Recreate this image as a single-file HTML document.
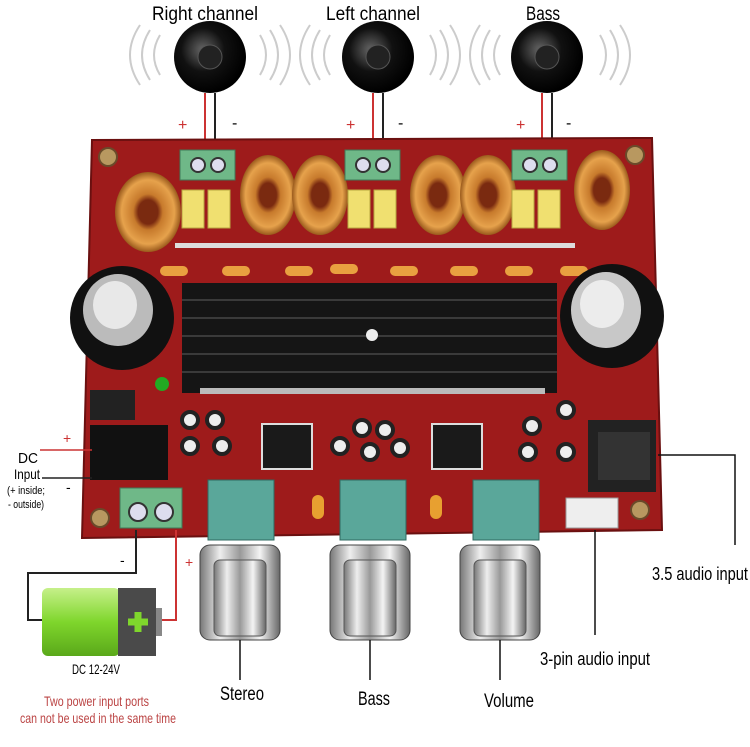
<!DOCTYPE html><html><head><style>body{margin:0;background:#fff}svg{display:block}text{font-family:"Liberation Sans",sans-serif}</style></head><body>
<svg width="750" height="747" viewBox="0 0 750 747" xmlns="http://www.w3.org/2000/svg">
<defs>
<radialGradient id="spk" cx="40%" cy="40%" r="60%"><stop offset="0" stop-color="#666"/><stop offset=".5" stop-color="#111"/><stop offset="1" stop-color="#000"/></radialGradient>
<linearGradient id="knob" x1="0" x2="1"><stop offset="0" stop-color="#777"/><stop offset=".25" stop-color="#eee"/><stop offset=".5" stop-color="#999"/><stop offset=".75" stop-color="#f4f4f4"/><stop offset="1" stop-color="#666"/></linearGradient>
<radialGradient id="coil" cx="50%" cy="50%" r="50%"><stop offset=".3" stop-color="#7a2a10"/><stop offset=".45" stop-color="#c77a2c"/><stop offset=".8" stop-color="#e6a24c"/><stop offset="1" stop-color="#9a5a1c"/></radialGradient>
<linearGradient id="bat" x1="0" y1="0" x2="0" y2="1"><stop offset="0" stop-color="#c6f08a"/><stop offset=".5" stop-color="#7fd62c"/><stop offset="1" stop-color="#5aa81a"/></linearGradient>
</defs>
<g fill="none" stroke="#ccc" stroke-width="2">
<path d="M160 35 q-12 20 0 40 M150 30 q-16 25 0 50 M140 25 q-20 30 0 60 M260 35 q12 20 0 40 M270 30 q16 25 0 50 M280 25 q20 30 0 60"/>
<path d="M330 35 q-12 20 0 40 M320 30 q-16 25 0 50 M310 25 q-20 30 0 60 M430 35 q12 20 0 40 M440 30 q16 25 0 50 M450 25 q20 30 0 60"/>
<path d="M500 35 q-12 20 0 40 M490 30 q-16 25 0 50 M480 25 q-20 30 0 60 M600 35 q12 20 0 40 M610 30 q16 25 0 50 M620 25 q20 30 0 60"/>
</g>
<text x="152" y="20" font-size="19" textLength="106" lengthAdjust="spacingAndGlyphs">Right channel</text>
<text x="326" y="20" font-size="19" textLength="94" lengthAdjust="spacingAndGlyphs">Left channel</text>
<text x="526" y="20" font-size="19" textLength="34" lengthAdjust="spacingAndGlyphs">Bass</text>
<circle cx="210" cy="57" r="36" fill="url(#spk)"/><circle cx="210" cy="57" r="12" fill="#222" stroke="#555"/>
<circle cx="378" cy="57" r="36" fill="url(#spk)"/><circle cx="378" cy="57" r="12" fill="#222" stroke="#555"/>
<circle cx="547" cy="57" r="36" fill="url(#spk)"/><circle cx="547" cy="57" r="12" fill="#222" stroke="#555"/>
<g stroke-width="2"><path d="M205 93 V155" stroke="#c33"/><path d="M215 93 V155" stroke="#222"/><path d="M373 93 V155" stroke="#c33"/><path d="M383 93 V155" stroke="#222"/><path d="M542 93 V155" stroke="#c33"/><path d="M552 93 V155" stroke="#222"/></g>
<g font-size="16"><text x="178" y="130" fill="#c33">+</text><text x="232" y="128">-</text><text x="346" y="130" fill="#c33">+</text><text x="398" y="128">-</text><text x="516" y="130" fill="#c33">+</text><text x="566" y="128">-</text></g>
<path d="M92 140 L652 138 L662 530 L82 538 Z" fill="#9e1b1b" stroke="#6a1010" stroke-width="2"/>
<g fill="#b89860" stroke="#6a4a2a" stroke-width="2"><circle cx="108" cy="157" r="9"/><circle cx="635" cy="155" r="9"/><circle cx="100" cy="518" r="9"/><circle cx="640" cy="510" r="9"/></g>
<g><ellipse cx="148" cy="212" rx="33" ry="40" fill="url(#coil)"/><ellipse cx="268" cy="195" rx="28" ry="40" fill="url(#coil)"/><ellipse cx="320" cy="195" rx="28" ry="40" fill="url(#coil)"/><ellipse cx="438" cy="195" rx="28" ry="40" fill="url(#coil)"/><ellipse cx="488" cy="195" rx="28" ry="40" fill="url(#coil)"/><ellipse cx="602" cy="190" rx="28" ry="40" fill="url(#coil)"/></g>
<g fill="#f0e070" stroke="#b8a840"><rect x="182" y="190" width="22" height="38"/><rect x="208" y="190" width="22" height="38"/><rect x="348" y="190" width="22" height="38"/><rect x="374" y="190" width="22" height="38"/><rect x="512" y="190" width="22" height="38"/><rect x="538" y="190" width="22" height="38"/></g>
<g fill="#6fb888" stroke="#3f7a58"><rect x="180" y="150" width="55" height="30"/><rect x="345" y="150" width="55" height="30"/><rect x="512" y="150" width="55" height="30"/><rect x="120" y="488" width="62" height="40"/></g>
<g fill="#dde" stroke="#333" stroke-width="2"><circle cx="198" cy="165" r="7"/><circle cx="218" cy="165" r="7"/><circle cx="363" cy="165" r="7"/><circle cx="383" cy="165" r="7"/><circle cx="530" cy="165" r="7"/><circle cx="550" cy="165" r="7"/><circle cx="138" cy="512" r="9"/><circle cx="164" cy="512" r="9"/></g>
<g fill="#e9a040"><rect x="160" y="266" width="28" height="10" rx="5"/><rect x="222" y="266" width="28" height="10" rx="5"/><rect x="285" y="266" width="28" height="10" rx="5"/><rect x="330" y="264" width="28" height="10" rx="5"/><rect x="390" y="266" width="28" height="10" rx="5"/><rect x="450" y="266" width="28" height="10" rx="5"/><rect x="505" y="266" width="28" height="10" rx="5"/><rect x="560" y="266" width="28" height="10" rx="5"/></g>
<rect x="175" y="243" width="400" height="5" fill="#ddd"/>
<rect x="182" y="283" width="375" height="110" fill="#151515"/>
<g stroke="#3a3a3a" stroke-width="2"><path d="M182 300 H557 M182 318 H557 M182 336 H557 M182 354 H557 M182 372 H557"/></g>
<rect x="200" y="388" width="345" height="6" fill="#bbb"/>
<circle cx="372" cy="335" r="6" fill="#eee"/>
<circle cx="122" cy="318" r="52" fill="#111"/><ellipse cx="118" cy="310" rx="35" ry="36" fill="#bbb"/><ellipse cx="115" cy="305" rx="22" ry="24" fill="#e8e8e8"/>
<circle cx="612" cy="316" r="52" fill="#111"/><ellipse cx="606" cy="310" rx="35" ry="38" fill="#c8c8c8"/><ellipse cx="602" cy="304" rx="22" ry="24" fill="#ececec"/>
<circle cx="162" cy="384" r="7" fill="#2a2"/>
<rect x="90" y="390" width="45" height="30" fill="#222"/>
<rect x="90" y="425" width="78" height="55" fill="#111"/>
<g fill="#eee" stroke="#222" stroke-width="4"><circle cx="190" cy="420" r="8"/><circle cx="215" cy="420" r="8"/><circle cx="190" cy="446" r="8"/><circle cx="222" cy="446" r="8"/><circle cx="340" cy="446" r="8"/><circle cx="362" cy="428" r="8"/><circle cx="385" cy="430" r="8"/><circle cx="370" cy="452" r="8"/><circle cx="400" cy="448" r="8"/><circle cx="532" cy="426" r="8"/><circle cx="566" cy="410" r="8"/><circle cx="528" cy="452" r="8"/><circle cx="566" cy="452" r="8"/></g>
<rect x="262" y="424" width="50" height="45" fill="#1a1a1a" stroke="#ddd" stroke-width="2"/>
<rect x="432" y="424" width="50" height="45" fill="#1a1a1a" stroke="#ddd" stroke-width="2"/>
<rect x="588" y="420" width="68" height="72" fill="#222"/><rect x="598" y="432" width="52" height="48" fill="#333"/>
<rect x="566" y="498" width="52" height="30" fill="#eee" stroke="#999"/>
<g fill="#5aa79a" stroke="#2f6a60"><rect x="208" y="480" width="66" height="60"/><rect x="340" y="480" width="66" height="60"/><rect x="473" y="480" width="66" height="60"/></g>
<g fill="#e8a030"><rect x="312" y="495" width="12" height="24" rx="6"/><rect x="430" y="495" width="12" height="24" rx="6"/></g>
<g><rect x="200" y="545" width="80" height="95" rx="10" fill="url(#knob)" stroke="#444"/><rect x="214" y="560" width="52" height="76" rx="6" fill="url(#knob)" stroke="#555"/>
<rect x="330" y="545" width="80" height="95" rx="10" fill="url(#knob)" stroke="#444"/><rect x="344" y="560" width="52" height="76" rx="6" fill="url(#knob)" stroke="#555"/>
<rect x="460" y="545" width="80" height="95" rx="10" fill="url(#knob)" stroke="#444"/><rect x="474" y="560" width="52" height="76" rx="6" fill="url(#knob)" stroke="#555"/></g>
<g stroke="#111" stroke-width="1.5" fill="none"><path d="M240 640 V680 M370 640 V680 M500 640 V680"/><path d="M595 530 V635"/><path d="M658 455 H735 V545"/></g>
<text x="220" y="700" font-size="19" textLength="44" lengthAdjust="spacingAndGlyphs">Stereo</text>
<text x="358" y="705" font-size="19" textLength="32" lengthAdjust="spacingAndGlyphs">Bass</text>
<text x="484" y="707" font-size="19" textLength="50" lengthAdjust="spacingAndGlyphs">Volume</text>
<text x="540" y="665" font-size="18" textLength="110" lengthAdjust="spacingAndGlyphs">3-pin audio input</text>
<text x="652" y="580" font-size="18" textLength="96" lengthAdjust="spacingAndGlyphs">3.5 audio input</text>
<g stroke-width="1.5"><path d="M40 450 H92" stroke="#c33"/><path d="M42 478 H92" stroke="#222"/></g>
<text x="63" y="443" font-size="14" fill="#c33">+</text>
<text x="18" y="463" font-size="15" textLength="20" lengthAdjust="spacingAndGlyphs">DC</text>
<text x="14" y="479" font-size="14" textLength="26" lengthAdjust="spacingAndGlyphs">Input</text>
<text x="7" y="494" font-size="11" textLength="38" lengthAdjust="spacingAndGlyphs">(+ inside;</text>
<text x="8" y="508" font-size="11" textLength="36" lengthAdjust="spacingAndGlyphs">- outside)</text>
<text x="66" y="492" font-size="14">-</text>
<g fill="none" stroke-width="2"><path d="M136 530 V573 H28 V620 H42" stroke="#222"/><path d="M176 530 V620 H160" stroke="#c33"/></g>
<text x="120" y="565" font-size="14">-</text><text x="185" y="567" font-size="14" fill="#c33">+</text>
<rect x="42" y="588" width="78" height="68" rx="6" fill="url(#bat)"/>
<rect x="118" y="588" width="38" height="68" fill="#4a4a4a"/><rect x="156" y="608" width="6" height="28" fill="#888"/>
<path d="M128 622 H148 M138 612 V632" stroke="#7fd62c" stroke-width="7"/>
<text x="72" y="674" font-size="14" textLength="48" lengthAdjust="spacingAndGlyphs">DC 12-24V</text>
<text x="44" y="706" font-size="14" fill="#b44" textLength="105" lengthAdjust="spacingAndGlyphs">Two power input ports</text>
<text x="20" y="723" font-size="14" fill="#b44" textLength="156" lengthAdjust="spacingAndGlyphs">can not be used in the same time</text>
</svg>
</body></html>
